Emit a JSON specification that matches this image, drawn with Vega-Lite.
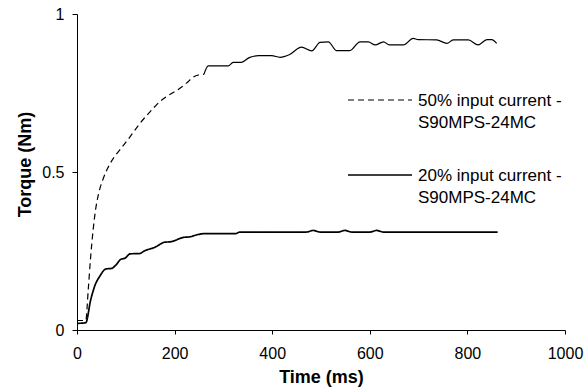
{
  "$schema": "https://vega.github.io/schema/vega-lite/v6.json",
  "width": 488,
  "height": 316,
  "autosize": {"type": "none"},
  "padding": {"left": 77, "top": 14, "right": 22, "bottom": 61},
  "background": "white",
  "config": {
    "view": {"stroke": null},
    "font": "Liberation Sans",
    "axis": {
      "grid": false,
      "domainColor": "black",
      "tickColor": "black",
      "labelColor": "black",
      "titleColor": "black",
      "labelFont": "Liberation Sans",
      "titleFont": "Liberation Sans",
      "labelFontSize": 16,
      "titleFontSize": 18,
      "titleFontWeight": "bold",
      "domainWidth": 1,
      "tickWidth": 1
    },
    "legend": {
      "orient": "none",
      "legendX": 270,
      "legendY": 53,
      "padding": 0,
      "symbolType": "stroke",
      "symbolSize": 4096,
      "symbolStrokeColor": "black",
      "labelFont": "Liberation Sans",
      "labelFontSize": 17,
      "labelColor": "black",
      "labelOffset": 5,
      "labelLimit": 400,
      "rowPadding": 11,
      "labelBaseline": "alphabetic"
    }
  },
  "data": {
    "values": [
      {"t": 0, "v": 0.03, "s": "50% input current -|S90MPS-24MC", "seg": "dash"},
      {"t": 18, "v": 0.03, "s": "50% input current -|S90MPS-24MC", "seg": "dash"},
      {"t": 23, "v": 0.127, "s": "50% input current -|S90MPS-24MC", "seg": "dash"},
      {"t": 28, "v": 0.232, "s": "50% input current -|S90MPS-24MC", "seg": "dash"},
      {"t": 33, "v": 0.316, "s": "50% input current -|S90MPS-24MC", "seg": "dash"},
      {"t": 38, "v": 0.38, "s": "50% input current -|S90MPS-24MC", "seg": "dash"},
      {"t": 44, "v": 0.43, "s": "50% input current -|S90MPS-24MC", "seg": "dash"},
      {"t": 54, "v": 0.48, "s": "50% input current -|S90MPS-24MC", "seg": "dash"},
      {"t": 68, "v": 0.527, "s": "50% input current -|S90MPS-24MC", "seg": "dash"},
      {"t": 80, "v": 0.555, "s": "50% input current -|S90MPS-24MC", "seg": "dash"},
      {"t": 92, "v": 0.578, "s": "50% input current -|S90MPS-24MC", "seg": "dash"},
      {"t": 109, "v": 0.612, "s": "50% input current -|S90MPS-24MC", "seg": "dash"},
      {"t": 129, "v": 0.654, "s": "50% input current -|S90MPS-24MC", "seg": "dash"},
      {"t": 150, "v": 0.691, "s": "50% input current -|S90MPS-24MC", "seg": "dash"},
      {"t": 170, "v": 0.723, "s": "50% input current -|S90MPS-24MC", "seg": "dash"},
      {"t": 191, "v": 0.746, "s": "50% input current -|S90MPS-24MC", "seg": "dash"},
      {"t": 211, "v": 0.765, "s": "50% input current -|S90MPS-24MC", "seg": "dash"},
      {"t": 225, "v": 0.782, "s": "50% input current -|S90MPS-24MC", "seg": "dash"},
      {"t": 238, "v": 0.8, "s": "50% input current -|S90MPS-24MC", "seg": "dash"},
      {"t": 249, "v": 0.807, "s": "50% input current -|S90MPS-24MC", "seg": "dash"},
      {"t": 260, "v": 0.809, "s": "50% input current -|S90MPS-24MC", "seg": "both"},
      {"t": 269, "v": 0.836, "s": "50% input current -|S90MPS-24MC", "seg": "solid"},
      {"t": 310, "v": 0.836, "s": "50% input current -|S90MPS-24MC", "seg": "solid"},
      {"t": 320, "v": 0.847, "s": "50% input current -|S90MPS-24MC", "seg": "solid"},
      {"t": 337, "v": 0.847, "s": "50% input current -|S90MPS-24MC", "seg": "solid"},
      {"t": 353, "v": 0.862, "s": "50% input current -|S90MPS-24MC", "seg": "solid"},
      {"t": 372, "v": 0.868, "s": "50% input current -|S90MPS-24MC", "seg": "solid"},
      {"t": 399, "v": 0.868, "s": "50% input current -|S90MPS-24MC", "seg": "solid"},
      {"t": 416, "v": 0.863, "s": "50% input current -|S90MPS-24MC", "seg": "solid"},
      {"t": 436, "v": 0.872, "s": "50% input current -|S90MPS-24MC", "seg": "solid"},
      {"t": 460, "v": 0.895, "s": "50% input current -|S90MPS-24MC", "seg": "solid"},
      {"t": 481, "v": 0.883, "s": "50% input current -|S90MPS-24MC", "seg": "solid"},
      {"t": 498, "v": 0.91, "s": "50% input current -|S90MPS-24MC", "seg": "solid"},
      {"t": 515, "v": 0.912, "s": "50% input current -|S90MPS-24MC", "seg": "solid"},
      {"t": 532, "v": 0.884, "s": "50% input current -|S90MPS-24MC", "seg": "solid"},
      {"t": 559, "v": 0.884, "s": "50% input current -|S90MPS-24MC", "seg": "solid"},
      {"t": 580, "v": 0.912, "s": "50% input current -|S90MPS-24MC", "seg": "solid"},
      {"t": 597, "v": 0.912, "s": "50% input current -|S90MPS-24MC", "seg": "solid"},
      {"t": 611, "v": 0.902, "s": "50% input current -|S90MPS-24MC", "seg": "solid"},
      {"t": 628, "v": 0.912, "s": "50% input current -|S90MPS-24MC", "seg": "solid"},
      {"t": 640, "v": 0.902, "s": "50% input current -|S90MPS-24MC", "seg": "solid"},
      {"t": 669, "v": 0.902, "s": "50% input current -|S90MPS-24MC", "seg": "solid"},
      {"t": 689, "v": 0.923, "s": "50% input current -|S90MPS-24MC", "seg": "solid"},
      {"t": 699, "v": 0.919, "s": "50% input current -|S90MPS-24MC", "seg": "solid"},
      {"t": 737, "v": 0.918, "s": "50% input current -|S90MPS-24MC", "seg": "solid"},
      {"t": 758, "v": 0.907, "s": "50% input current -|S90MPS-24MC", "seg": "solid"},
      {"t": 771, "v": 0.918, "s": "50% input current -|S90MPS-24MC", "seg": "solid"},
      {"t": 802, "v": 0.918, "s": "50% input current -|S90MPS-24MC", "seg": "solid"},
      {"t": 822, "v": 0.902, "s": "50% input current -|S90MPS-24MC", "seg": "solid"},
      {"t": 840, "v": 0.919, "s": "50% input current -|S90MPS-24MC", "seg": "solid"},
      {"t": 850, "v": 0.919, "s": "50% input current -|S90MPS-24MC", "seg": "solid"},
      {"t": 860, "v": 0.907, "s": "50% input current -|S90MPS-24MC", "seg": "solid"},
      {"t": 0, "v": 0.021, "s": "20% input current -|S90MPS-24MC", "seg": "plain"},
      {"t": 18, "v": 0.023, "s": "20% input current -|S90MPS-24MC", "seg": "plain"},
      {"t": 28, "v": 0.095, "s": "20% input current -|S90MPS-24MC", "seg": "plain"},
      {"t": 37, "v": 0.142, "s": "20% input current -|S90MPS-24MC", "seg": "plain"},
      {"t": 47, "v": 0.171, "s": "20% input current -|S90MPS-24MC", "seg": "plain"},
      {"t": 59, "v": 0.193, "s": "20% input current -|S90MPS-24MC", "seg": "plain"},
      {"t": 71, "v": 0.195, "s": "20% input current -|S90MPS-24MC", "seg": "plain"},
      {"t": 80, "v": 0.206, "s": "20% input current -|S90MPS-24MC", "seg": "plain"},
      {"t": 90, "v": 0.224, "s": "20% input current -|S90MPS-24MC", "seg": "plain"},
      {"t": 98, "v": 0.227, "s": "20% input current -|S90MPS-24MC", "seg": "plain"},
      {"t": 109, "v": 0.241, "s": "20% input current -|S90MPS-24MC", "seg": "plain"},
      {"t": 128, "v": 0.242, "s": "20% input current -|S90MPS-24MC", "seg": "plain"},
      {"t": 139, "v": 0.251, "s": "20% input current -|S90MPS-24MC", "seg": "plain"},
      {"t": 160, "v": 0.262, "s": "20% input current -|S90MPS-24MC", "seg": "plain"},
      {"t": 180, "v": 0.278, "s": "20% input current -|S90MPS-24MC", "seg": "plain"},
      {"t": 191, "v": 0.279, "s": "20% input current -|S90MPS-24MC", "seg": "plain"},
      {"t": 218, "v": 0.293, "s": "20% input current -|S90MPS-24MC", "seg": "plain"},
      {"t": 232, "v": 0.295, "s": "20% input current -|S90MPS-24MC", "seg": "plain"},
      {"t": 245, "v": 0.301, "s": "20% input current -|S90MPS-24MC", "seg": "plain"},
      {"t": 262, "v": 0.305, "s": "20% input current -|S90MPS-24MC", "seg": "plain"},
      {"t": 325, "v": 0.305, "s": "20% input current -|S90MPS-24MC", "seg": "plain"},
      {"t": 334, "v": 0.31, "s": "20% input current -|S90MPS-24MC", "seg": "plain"},
      {"t": 470, "v": 0.31, "s": "20% input current -|S90MPS-24MC", "seg": "plain"},
      {"t": 484, "v": 0.315, "s": "20% input current -|S90MPS-24MC", "seg": "plain"},
      {"t": 498, "v": 0.31, "s": "20% input current -|S90MPS-24MC", "seg": "plain"},
      {"t": 535, "v": 0.31, "s": "20% input current -|S90MPS-24MC", "seg": "plain"},
      {"t": 549, "v": 0.315, "s": "20% input current -|S90MPS-24MC", "seg": "plain"},
      {"t": 563, "v": 0.31, "s": "20% input current -|S90MPS-24MC", "seg": "plain"},
      {"t": 600, "v": 0.31, "s": "20% input current -|S90MPS-24MC", "seg": "plain"},
      {"t": 614, "v": 0.315, "s": "20% input current -|S90MPS-24MC", "seg": "plain"},
      {"t": 628, "v": 0.31, "s": "20% input current -|S90MPS-24MC", "seg": "plain"},
      {"t": 862, "v": 0.31, "s": "20% input current -|S90MPS-24MC", "seg": "plain"}
    ]
  },
  "layer": [
    {
      "transform": [{"filter": "datum.seg != 'solid'"}],
      "mark": {"type": "line", "interpolate": "monotone", "color": "black"},
      "encoding": {
        "x": {
          "field": "t",
          "type": "quantitative",
          "scale": {"domain": [0, 1000], "nice": false},
          "axis": {
            "values": [0, 200, 400, 600, 800, 1000],
            "format": "d",
            "title": "Time (ms)",
            "titleX": 244,
            "titleY": 47,
            "titleBaseline": "middle",
            "titleAlign": "center",
            "tickSize": 4,
            "labelPadding": 11,
            "labelFlush": false,
            "labelOverlap": false
          }
        },
        "y": {
          "field": "v",
          "type": "quantitative",
          "scale": {"domain": [0, 1], "nice": false},
          "axis": {
            "values": [0, 0.5, 1],
            "labelExpr": "'' + datum.value",
            "title": "Torque (Nm)",
            "titleAngle": -90,
            "titleX": -52,
            "titleY": 150,
            "titleBaseline": "middle",
            "titleAlign": "center",
            "tickSize": 5,
            "labelPadding": 8,
            "labelFlush": false,
            "labelOverlap": false
          }
        },
        "strokeDash": {
          "field": "s",
          "type": "nominal",
          "scale": {
            "domain": ["50% input current -|S90MPS-24MC", "20% input current -|S90MPS-24MC"],
            "range": [[6, 4], [1, 0]]
          },
          "legend": {
            "title": null,
            "labelExpr": "split(datum.label, '|')",
            "encode": {"labels": {"update": {"dy": {"value": 6}, "lineHeight": {"value": 22}}}}
          }
        },
        "strokeWidth": {
          "field": "s",
          "type": "nominal",
          "scale": {
            "domain": ["50% input current -|S90MPS-24MC", "20% input current -|S90MPS-24MC"],
            "range": [1.2, 1.7]
          },
          "legend": {
            "title": null,
            "labelExpr": "split(datum.label, '|')",
            "encode": {"labels": {"update": {"dy": {"value": 6}, "lineHeight": {"value": 22}}}}
          }
        }
      }
    },
    {
      "transform": [{"filter": "datum.seg == 'solid' || datum.seg == 'both'"}],
      "mark": {"type": "line", "interpolate": "monotone", "color": "black", "strokeWidth": 1.2},
      "encoding": {
        "x": {"field": "t", "type": "quantitative"},
        "y": {"field": "v", "type": "quantitative"}
      }
    }
  ]
}
